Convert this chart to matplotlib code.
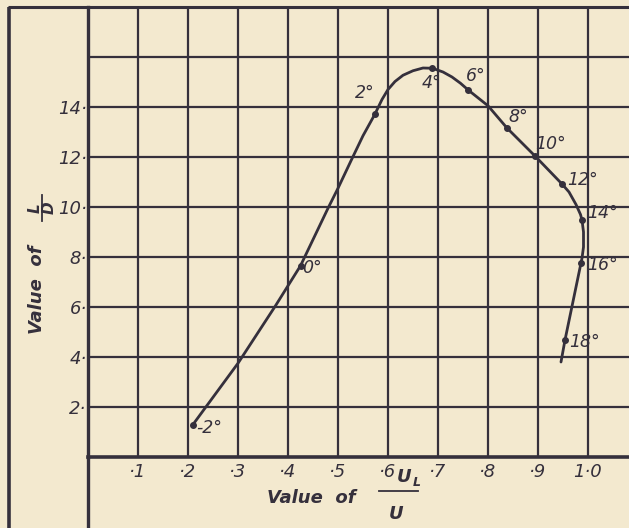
import matplotlib
matplotlib.use("Agg")
import matplotlib.pyplot as plt
from matplotlib.lines import Line2D

# ---- data ----
angle_labels = ["-2°", "0°", "2°", "4°", "6°", "8°", "10°", "12°", "14°", "16°", "18°"]
ul_over_u = [0.21, 0.425, 0.574, 0.689, 0.761, 0.838, 0.894, 0.948, 0.988, 0.986, 0.954]
l_over_d = [1.3, 7.65, 13.72, 15.55, 14.67, 13.16, 12.04, 10.92, 9.48, 7.76, 4.68]

# traced course of the drawn curve
curve_x = [0.21, 0.30, 0.375, 0.425, 0.48, 0.50, 0.526, 0.55, 0.574, 0.588, 0.60,
           0.614, 0.63, 0.65, 0.67, 0.689, 0.71, 0.728, 0.745, 0.761, 0.80, 0.838,
           0.894, 0.948, 0.962, 0.976, 0.985, 0.988, 0.991, 0.991, 0.988, 0.986,
           0.954, 0.946]
curve_y = [1.3, 3.75, 6.05, 7.65, 9.95, 10.75, 11.85, 12.85, 13.72, 14.3, 14.7,
           15.02, 15.27, 15.45, 15.56, 15.55, 15.4, 15.2, 14.95, 14.67, 14.05, 13.16,
           12.04, 10.92, 10.6, 10.1, 9.7, 9.48, 9.0, 8.4, 7.95, 7.76,
           4.68, 3.8]

x_ticks = [0.1, 0.2, 0.3, 0.4, 0.5, 0.6, 0.7, 0.8, 0.9, 1.0]
x_tick_labels = ["·1", "·2", "·3", "·4", "·5", "·6", "·7", "·8", "·9", "1·0"]
y_ticks = [2, 4, 6, 8, 10, 12, 14, 16]
y_tick_labels = ["2·", "4·", "6·", "8·", "10·", "12·", "14·", ""]

# label offsets (in data units) for the angle annotations
label_dx = [0.032, 0.024, -0.02, -0.002, 0.014, 0.022, 0.032, 0.042, 0.042, 0.044, 0.04]
label_dy = [-0.15, -0.1, 0.84, -0.6, 0.56, 0.44, 0.48, 0.16, 0.28, -0.08, -0.08]

BG = "#f3e9cf"
INK = "#35303c"

plt.rcParams["font.family"] = ["DejaVu Sans"]

W, H = 629, 528
fig = plt.figure(figsize=(W / 100, H / 100), dpi=100, facecolor=BG)

x0, y0, ytop = 88, 457, 7
ax = fig.add_axes([x0 / W, (H - y0) / H, (W - x0) / W, (y0 - ytop) / H])
ax.set_facecolor(BG)
ax.set_xlim(0, (W - x0) / 500)
ax.set_ylim(0, 18)

ax.set_xticks(x_ticks)
ax.set_xticklabels(x_tick_labels, fontstyle="italic", fontsize=13, color=INK)
ax.set_yticks(y_ticks)
ax.set_yticklabels(y_tick_labels, fontstyle="italic", fontsize=13, color=INK)
ax.tick_params(axis="both", length=0)
ax.tick_params(axis="x", pad=4)
ax.tick_params(axis="y", pad=1)
ax.grid(True, color=INK, linewidth=1.6)
ax.set_axisbelow(True)

for s in ["right", "top"]:
    ax.spines[s].set_visible(False)
ax.spines["left"].set_color(INK)
ax.spines["left"].set_linewidth(2.4)
ax.spines["bottom"].set_color(INK)
ax.spines["bottom"].set_linewidth(2.6)

# frame lines outside the grid
fig.add_artist(Line2D([8 / W, 1], [(H - 7) / H, (H - 7) / H], color=INK, lw=2.2,
                      solid_capstyle="butt"))
fig.add_artist(Line2D([9 / W, 9 / W], [0, (H - 7) / H], color=INK, lw=2.6,
                      solid_capstyle="butt"))
fig.add_artist(Line2D([x0 / W, x0 / W], [0, (H - y0) / H], color=INK, lw=2.4,
                      solid_capstyle="butt"))

# curve and points
ax.plot(curve_x, curve_y, color=INK, lw=2.0, solid_joinstyle="round",
        solid_capstyle="round", zorder=3)
ax.plot(ul_over_u, l_over_d, "o", color=INK, ms=4, zorder=4)
for lab, xv, yv, dx, dy in zip(angle_labels, ul_over_u, l_over_d, label_dx, label_dy):
    ax.text(xv + dx, yv + dy, lab, fontstyle="italic", fontsize=12.5, color=INK,
            ha="center", va="center", zorder=5)

# axis titles
fig.text(311 / W, 1 - 498 / H, "Value  of", fontstyle="italic",
         fontweight="bold", fontsize=13, color=INK, ha="center", va="center")
fig.text(404 / W, 1 - 477 / H, "U", fontstyle="italic", fontweight="bold",
         fontsize=13, color=INK, ha="center", va="center")
fig.text(417 / W, 1 - 482 / H, "L", fontstyle="italic", fontweight="bold",
         fontsize=9, color=INK, ha="center", va="center")
fig.add_artist(Line2D([379 / W, 418 / W], [1 - 491 / H, 1 - 491 / H], color=INK, lw=1.3))
fig.text(396 / W, 1 - 514 / H, "U", fontstyle="italic", fontweight="bold",
         fontsize=13, color=INK, ha="center", va="center")

fig.text(37 / W, 1 - 290 / H, "Value  of", fontstyle="italic",
         fontweight="bold", fontsize=13, color=INK, ha="center", va="center",
         rotation=90)
fig.text(35 / W, 1 - 208 / H, "L", fontstyle="italic", fontweight="bold",
         fontsize=11, color=INK, ha="center", va="center", rotation=90)
fig.add_artist(Line2D([42 / W, 42 / W], [1 - 221 / H, 1 - 195 / H], color=INK, lw=1.3))
fig.text(49 / W, 1 - 208 / H, "D", fontstyle="italic", fontweight="bold",
         fontsize=11, color=INK, ha="center", va="center", rotation=90)

fig.savefig("out.png", dpi=100, facecolor=BG)
